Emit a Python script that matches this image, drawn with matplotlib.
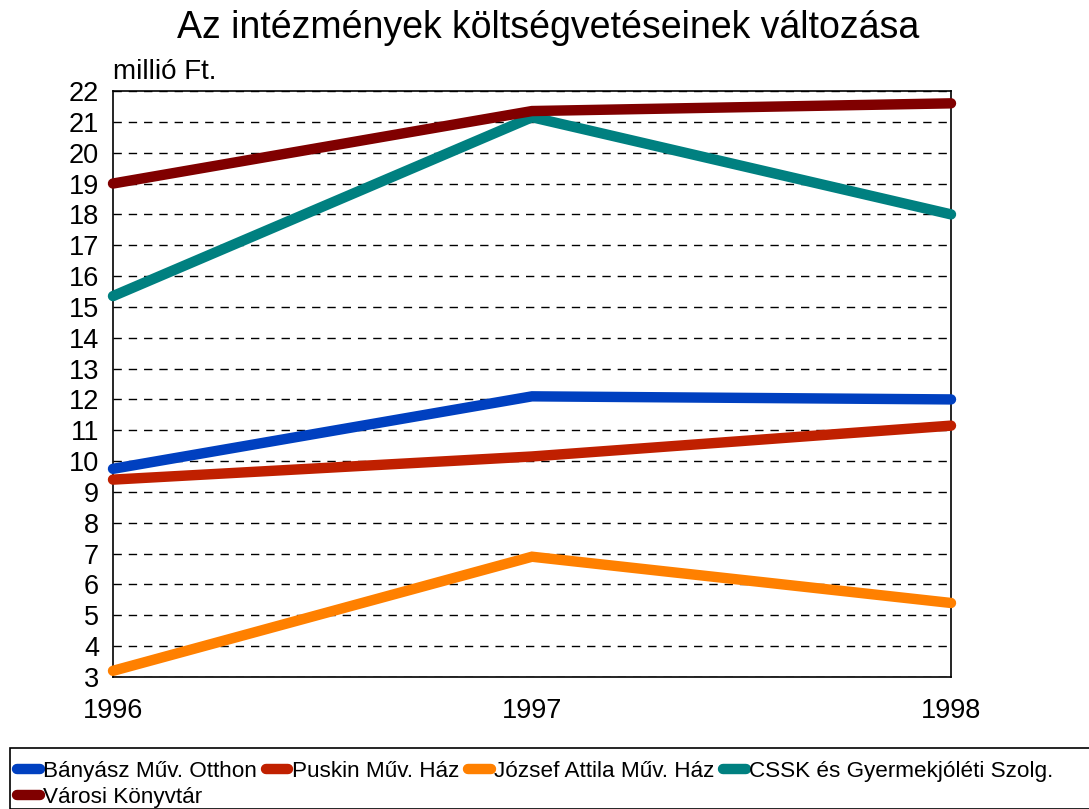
import matplotlib
matplotlib.use("Agg")
from matplotlib import pyplot as plt
from matplotlib.patches import Rectangle

plt.rcParams['font.family'] = ['Liberation Sans', 'DejaVu Sans']

# --- data (millió Ft.) ---
years = [1996, 1997, 1998]
banyasz = [9.75, 12.1, 12.0]
puskin = [9.4, 10.15, 11.15]
jozsef = [3.2, 6.9, 5.4]
cssk = [15.35, 21.15, 18.0]
varosi = [19.0, 21.35, 21.6]

series = [
    ("Bányász Műv. Otthon", banyasz, "#0040C0"),
    ("Puskin Műv. Ház", puskin, "#C02000"),
    ("József Attila Műv. Ház", jozsef, "#FF8000"),
    ("CSSK és Gyermekjóléti Szolg.", cssk, "#008080"),
    ("Városi Könyvtár", varosi, "#800000"),
]

fig = plt.figure(figsize=(10.89, 8.09), dpi=100)
ax = fig.add_axes([113/1089, 1 - 677/809, (951-113)/1089, (677-91)/809])

handles = []
for name, vals, col in series:
    ln, = ax.plot(years, vals, color=col, lw=7.5, solid_capstyle='round',
                  solid_joinstyle='miter', label=name, clip_on=False, zorder=3)
    handles.append(ln)

ax.set_xlim(1996, 1998)
ax.set_ylim(3, 22)
ax.set_xticks(years)
ax.set_yticks(range(3, 23))
ax.tick_params(labelsize=19.5, length=0)
ax.tick_params(axis='x', pad=15)
ax.tick_params(axis='y', pad=10)
ax.grid(axis='y', color='black', ls=(0, (6, 5)), lw=1)
for s in ax.spines.values():
    s.set_linewidth(1.2)

fig.text(548/1089, 1 - 28/809, "Az intézmények költségvetéseinek változása",
         ha='center', va='center', fontsize=27)
fig.text(113/1089, 1 - 72/809, "millió Ft.", ha='left', va='center', fontsize=20)

# legend frame at the bottom
fig.patches.append(Rectangle((10/1089, 0), 1.0, (809-748)/809,
                             transform=fig.transFigure, fill=False,
                             edgecolor='black', lw=1.2))
# column-major fill: put the 5th entry second so rows read left to right
order = [0, 4, 1, 2, 3]
fig.legend([handles[i] for i in order], [series[i][0] for i in order],
           loc='upper left', bbox_to_anchor=(8/1089, 1 - 752/809), ncol=4,
           frameon=False, fontsize=16.2, handlelength=1.0, handletextpad=0.15,
           columnspacing=0.4, labelspacing=0.22, borderaxespad=0)

fig.savefig("out.png", dpi=100)
